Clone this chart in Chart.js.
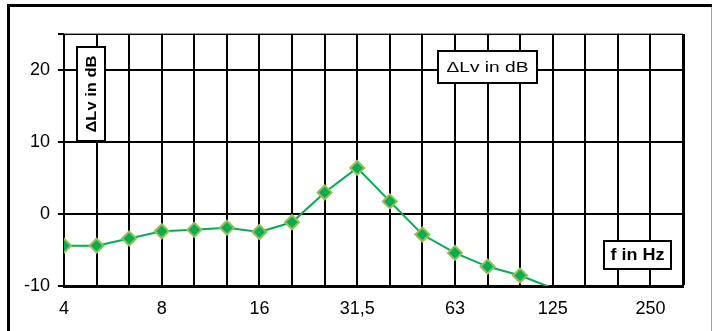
<!DOCTYPE html>
<html>
<head>
<meta charset="utf-8">
<script src="https://cdn.jsdelivr.net/npm/chart.js@4/dist/chart.umd.min.js"></script>
<style>
    html, body { margin: 0; padding: 0; background: #fff; }
    #wrap { width: 713px; height: 331px; position: relative; }
</style>
</head>
<body>
<div id="wrap"><canvas id="chart"></canvas></div>
<script>
// third-octave bands, Hz
const frequencies = ['4', '5', '6,3', '8', '10', '12,5', '16', '20', '25', '31,5', '40', '50', '63', '80', '100', '125', '160', '200', '250', '315']
// level difference per band, dB (125 Hz falls below the axis)
const deltaLv = [-4.4, -4.4, -3.4, -2.4, -2.2, -1.9, -2.5, -1.15, 3.0, 6.4, 1.75, -2.85, -5.4, -7.3, -8.55, -10.3]
const yMin = -10
const yMax = 25
const yStep = 10

const FONT = '"Liberation Sans", Arial, sans-serif'

// draws a white box with a black frame and text squeezed/stretched to a width
const drawLabelBox = (ctx, text, box, font, textWidth, rotated) => {
    ctx.save()
    ctx.fillStyle = '#fff'
    ctx.fillRect(box.x, box.y, box.w, box.h)
    ctx.strokeStyle = '#000'
    ctx.lineWidth = 2
    ctx.strokeRect(box.x, box.y, box.w, box.h)
    ctx.translate(box.x + box.w / 2, box.y + box.h / 2)
    if (rotated) ctx.rotate(-Math.PI / 2)
    ctx.font = font
    const w = ctx.measureText(text).width
    ctx.scale(textWidth / w, 1)
    ctx.fillStyle = '#000'
    ctx.textAlign = 'center'
    ctx.textBaseline = 'middle'
    ctx.fillText(text, 0, 1)
    ctx.restore()
}

const framePlugin = {
    id: 'frame',
    beforeDraw: (chart) => {
        const ctx = chart.ctx
        ctx.save()
        ctx.fillStyle = '#fff'
        ctx.fillRect(0, 0, chart.width, chart.height)
        ctx.fillStyle = '#000'
        ctx.fillRect(7, 4, 705, 3)
        ctx.fillRect(7, 4, 3, chart.height)
        ctx.fillStyle = '#a0a0a0'
        ctx.fillRect(711, 7, 1, chart.height)
        ctx.restore()
    },
    beforeDatasetsDraw: (chart) => {
        const { ctx, chartArea } = chart
        ctx.save()
        ctx.fillStyle = '#9a9a9a'
        ctx.fillRect(chartArea.left, chartArea.top - 1, chartArea.right - chartArea.left, 1)
        ctx.restore()
    },
    afterDraw: (chart) => {
        const ctx = chart.ctx
        drawLabelBox(ctx, '\u0394Lv in dB', { x: 77, y: 47, w: 28, h: 94 }, 'bold 15px ' + FONT, 77, true)
        drawLabelBox(ctx, '\u0394Lv in dB', { x: 438, y: 51, w: 99, h: 32 }, '14px ' + FONT, 82, false)
        drawLabelBox(ctx, 'f in Hz', { x: 604, y: 241, w: 67, h: 28 }, 'bold 16px ' + FONT, 54, false)
    },
}

new Chart(document.getElementById('chart'), {
    type: 'line',
    data: {
        labels: frequencies,
        datasets: [
            {
                data: deltaLv,
                borderColor: '#00b050',
                borderWidth: 2,
                backgroundColor: '#00b050',
                pointStyle: 'rectRot',
                pointRadius: (c) => (c.raw < yMin ? 0 : 7),
                pointBorderColor: '#9bbb59',
                pointBorderWidth: 2,
                pointBackgroundColor: '#00b050',
                tension: 0,
                clip: 0,
            },
        ],
    },
    options: {
        responsive: true,
        maintainAspectRatio: false,
        animation: false,
        layout: { padding: { left: 10, top: 34, right: 30, bottom: 0 } },
        plugins: { legend: { display: false }, tooltip: { enabled: false } },
        scales: {
            x: {
                type: 'category',
                offset: false,
                afterFit: (s) => { s.height = 45 },
                grid: {
                    color: '#000',
                    lineWidth: (c) => (c.index === frequencies.length - 1 ? 3 : 2),
                    drawTicks: false,
                },
                border: { color: '#000', width: 3 },
                ticks: {
                    autoSkip: false,
                    maxRotation: 0,
                    padding: 12,
                    color: '#000',
                    font: { family: FONT, size: 18 },
                    callback: (v, i) => (i % 3 === 0 ? frequencies[i] : ''),
                },
            },
            y: {
                min: yMin,
                max: yMax,
                afterFit: (s) => { s.width = 54 },
                grid: {
                    color: '#000',
                    lineWidth: 2,
                    tickLength: 6,
                },
                border: { color: '#000', width: 2 },
                ticks: {
                    stepSize: yStep,
                    padding: 8,
                    color: '#000',
                    font: { family: FONT, size: 18 },
                    callback: (v) => (v === yMax ? '' : v),
                },
            },
        },
    },
    plugins: [framePlugin],
})
</script>
</body>
</html>
